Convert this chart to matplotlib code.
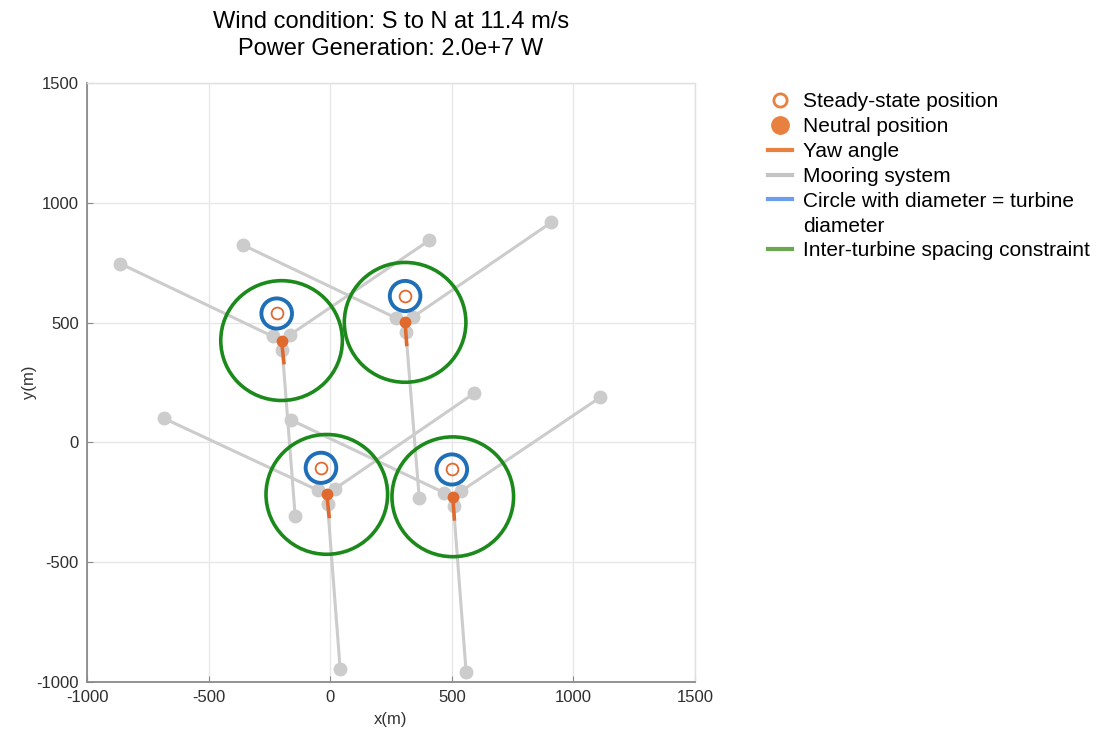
import numpy as np
import matplotlib.pyplot as plt
from matplotlib.patches import Circle
from matplotlib.lines import Line2D

plt.rcParams['font.family'] = ['Liberation Sans', 'DejaVu Sans']
plt.rcParams['axes.unicode_minus'] = False

# wind case
wind_dir = "S to N"
wind_speed = 11.4
power_w = 2.0e7

# neutral (unloaded) platform positions, m
neutral_x = [-200, 308, -14, 504]
neutral_y = [425, 501, -217, -227]
# steady-state positions under wind load, m
steady_x = [-220, 308, -38, 500]
steady_y = [538, 611, -106, -113]
# yaw angle of each turbine, deg
yaw_deg = [6, 4, 6, 4]
# three anchors per turbine, m
anchor_x = [[-863, 407, -144], [-357, 909, 366], [-683, 592, 41], [-160, 1110, 559]]
anchor_y = [[746, 843, -308], [823, 918, -231], [100, 205, -947], [93, 188, -960]]

turbine_diameter = 126
spacing_radius = 250
fairlead_radius = 40
yaw_length = 100

ticks = [-1000, -500, 0, 500, 1000, 1500]

orange = '#e06a2e'
gray = '#cccccc'
blue = '#1f6fb8'
green = '#1b8a1b'

fig = plt.figure(figsize=(10.96, 7.34), dpi=100)
ax = fig.add_axes([87 / 1096, 52 / 734, 608 / 1096, 599 / 734])

for i in range(len(neutral_x)):
    nx, ny = neutral_x[i], neutral_y[i]
    # mooring lines from fairleads to anchors
    for ax_, ay_ in zip(anchor_x[i], anchor_y[i]):
        d = np.hypot(ax_ - nx, ay_ - ny)
        fx = nx + fairlead_radius * (ax_ - nx) / d
        fy = ny + fairlead_radius * (ay_ - ny) / d
        ax.plot([fx, ax_], [fy, ay_], color=gray, lw=2.2, zorder=2)
        ax.plot([fx, ax_], [fy, ay_], ls='none', marker='o', ms=9,
                color=gray, zorder=2.5)
    # spacing constraint
    ax.add_patch(Circle((nx, ny), spacing_radius, fill=False, ec=green,
                        lw=2.6, zorder=3))
    # rotor circle around steady-state position
    ax.add_patch(Circle((steady_x[i], steady_y[i]), turbine_diameter / 2,
                        fill=False, ec=blue, lw=2.8, zorder=4))
    ax.plot(steady_x[i], steady_y[i], ls='none', marker='o', ms=8.5,
            mfc='none', mec=orange, mew=1.3, zorder=5)
    # yaw indicator
    a = np.deg2rad(yaw_deg[i])
    ax.plot([nx, nx + yaw_length * np.sin(a)], [ny, ny - yaw_length * np.cos(a)],
            color=orange, lw=2.6, solid_capstyle='butt', zorder=5)
    ax.plot(nx, ny, ls='none', marker='o', ms=7.5, color=orange, zorder=6)

ax.set_xlim(-1000, 1500)
ax.set_ylim(-1000, 1500)
ax.set_xticks(ticks)
ax.set_yticks(ticks)
ax.grid(True, color='#e6e6e6', lw=0.9)
ax.set_axisbelow(True)
for s in ['left', 'bottom']:
    ax.spines[s].set_color('#8a8a8a')
    ax.spines[s].set_linewidth(1.3)
for s in ['top', 'right']:
    ax.spines[s].set_color('#e0e0e0')
    ax.spines[s].set_linewidth(1.0)
ax.tick_params(direction='in', length=4, color='#8a8a8a', labelsize=12,
               labelcolor='#2e2e2e', pad=6)
ax.set_xlabel('x(m)', fontsize=12, color='#333333', labelpad=5)
ax.set_ylabel('y(m)', fontsize=12, color='#333333')
ax.yaxis.set_label_coords(-0.082, 0.5)

power_txt = f'{power_w:.1e}'.replace('e+0', 'e+')
ax.set_title(f'Wind condition: {wind_dir} at {wind_speed} m/s\n'
             f'Power Generation: {power_txt} W',
             fontsize=17, pad=20, linespacing=1.32)

handles = [
    Line2D([], [], ls='none', marker='o', ms=9.5, mfc='white', mec='#e8803f', mew=2),
    Line2D([], [], ls='none', marker='o', ms=12.5, color='#e8803f'),
    Line2D([], [], color='#e8803f', lw=3),
    Line2D([], [], color='#c4c4c4', lw=3),
    Line2D([], [], color='#6d9eeb', lw=3),
    Line2D([], [], ls='none'),
    Line2D([], [], color='#6aa84f', lw=3),
]
labels = ['Steady-state position', 'Neutral position', 'Yaw angle',
          'Mooring system', 'Circle with diameter = turbine', 'diameter',
          'Inter-turbine spacing constraint']
fig.legend(handles, labels, loc='upper left', bbox_to_anchor=(760 / 1096, 1 - 84 / 734),
           frameon=False, fontsize=15, handlelength=1.15, handletextpad=0.5,
           labelspacing=0.28, borderpad=0.4, borderaxespad=0)

fig.savefig('out.png', dpi=100)
